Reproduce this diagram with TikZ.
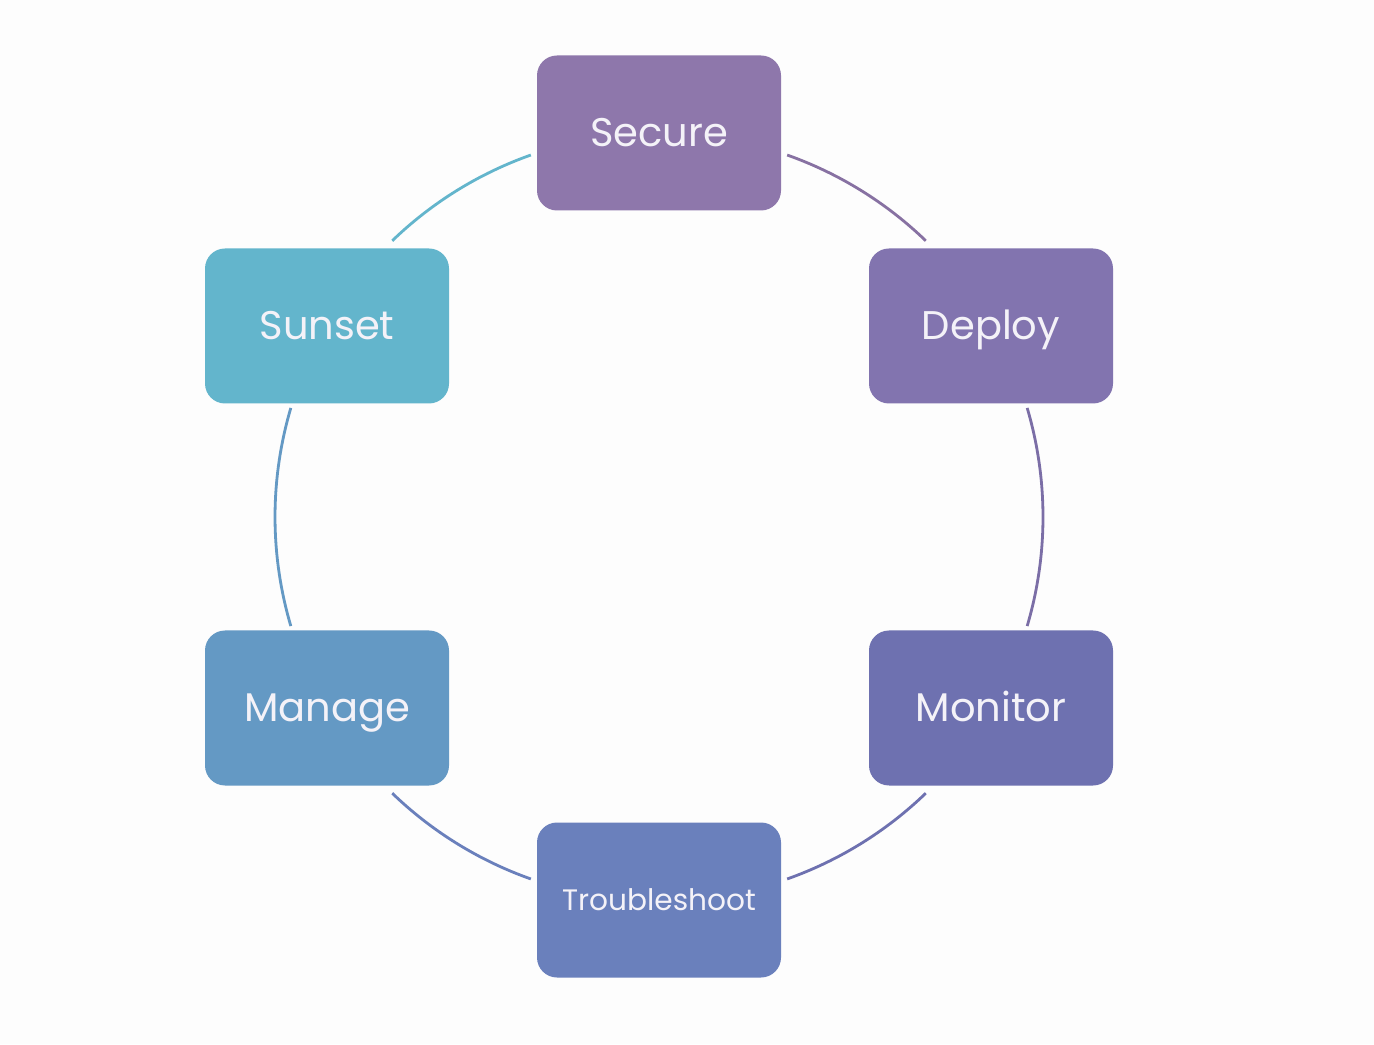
\documentclass[tikz,border=0pt]{standalone}
\usepackage{fontspec}
\setmainfont{Poppins}
\definecolor{bgc}{RGB}{253,253,253}
\definecolor{csecure}{RGB}{142,119,171}
\definecolor{cdeploy}{RGB}{130,116,175}
\definecolor{cmonitor}{RGB}{110,113,176}
\definecolor{ctrouble}{RGB}{106,128,188}
\definecolor{cmanage}{RGB}{100,153,196}
\definecolor{csunset}{RGB}{99,181,204}
\definecolor{txt}{RGB}{244,242,248}
\begin{document}
\begin{tikzpicture}[x=0.5pt,y=0.5pt,
  stage/.style={rounded corners=10pt, minimum width=122pt, minimum height=77.5pt, inner sep=0pt, text=txt, text height=14pt, text depth=0pt, font=\fontsize{20}{24}\selectfont},
  smallstage/.style={stage, text height=10.4pt, font=\fontsize{14.8}{18}\selectfont},
  ring/.style={line width=1.4pt}]
\fill[bgc] (0,0) rectangle (1374,1044);
\useasboundingbox (0,0) rectangle (1374,1044);
\coordinate (c) at (659,527);
\node[stage, fill=csecure]  (secure)  at (659,911) {Secure};
\node[stage, fill=cdeploy]  (deploy)  at (991,718) {Deploy};
\node[stage, fill=cmonitor] (monitor) at (991,336) {Monitor};
\node[smallstage, fill=ctrouble] (trouble) at (659,144) {Troubleshoot};
\node[stage, fill=cmanage]  (manage)  at (327,336) {Manage};
\node[stage, fill=csunset]  (sunset)  at (327,718) {Sunset};
\draw[ring, csecure!95!black]  ([shift={(70.5:384)}]c) arc (70.5:46:384);
\draw[ring, cdeploy!95!black]  ([shift={(16.5:384)}]c) arc (16.5:-16.5:384);
\draw[ring, cmonitor]          ([shift={(-46:384)}]c) arc (-46:-70.5:384);
\draw[ring, ctrouble]          ([shift={(-109.5:384)}]c) arc (-109.5:-134:384);
\draw[ring, cmanage]           ([shift={(196.5:384)}]c) arc (196.5:163.5:384);
\draw[ring, csunset]           ([shift={(134:384)}]c) arc (134:109.5:384);
\end{tikzpicture}
\end{document}
